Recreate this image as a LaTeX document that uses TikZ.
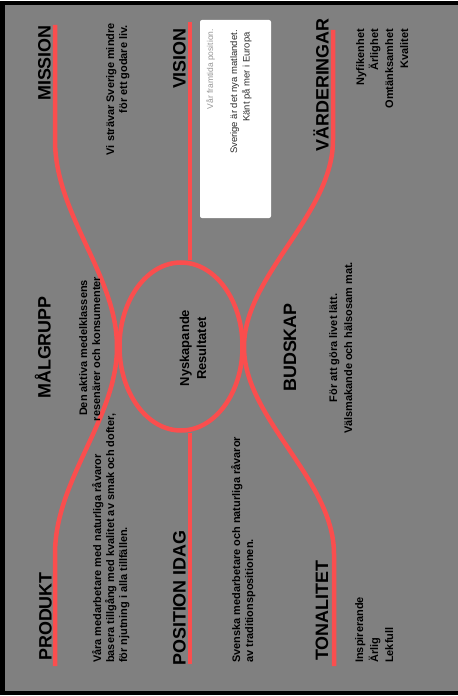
\documentclass[tikz,border=0pt]{standalone}
\usepackage{fontspec}
\setmainfont{Liberation Sans}
\usetikzlibrary{shapes.geometric}
\definecolor{bggrey}{RGB}{128,128,128}
\definecolor{redline}{RGB}{250,78,78}
\definecolor{softgrey}{RGB}{150,150,150}
\definecolor{darktext}{RGB}{45,45,45}
\begin{document}
\begin{tikzpicture}[x=1bp,y=-1bp,
  redpath/.style={draw=redline,line width=4.5bp},
  heading/.style={font=\fontsize{18}{20}\selectfont\bfseries,rotate=90,inner sep=0pt,text=black},
  bodytext/.style={font=\fontsize{11}{13}\selectfont\bfseries,rotate=90,inner sep=0pt,text=black},
  coretext/.style={font=\fontsize{13}{15}\selectfont\bfseries,rotate=90,inner sep=0pt,text=black},
  boxsmall/.style={font=\fontsize{8.5}{10}\selectfont,rotate=90,inner sep=0pt,text=softgrey},
  boxtext/.style={font=\fontsize{9.5}{11}\selectfont,rotate=90,inner sep=0pt,text=darktext}]
\useasboundingbox (0,0) rectangle (458,696);
\clip (0,0) rectangle (458,696);
\fill[white] (0,0) rectangle (458,696);
\draw[line width=4bp, fill=bggrey] (2.5,3.5) rectangle (480,692.5);

% red structure
\coordinate (lefttop) at (55,25);
\coordinate (leftbot) at (55,666);
\coordinate (midtop) at (190,22);
\coordinate (midbot) at (190,664);
\coordinate (righttop) at (333,30);
\coordinate (rightbot) at (334,666);
\node[ellipse, draw=redline, line width=4.5bp, minimum width=123bp, minimum height=168bp, inner sep=0pt] (core) at (181,346.5) {};
\draw[redpath] (lefttop) -- (55,140) .. controls (55,215) and (117,275) .. (117,347)
  .. controls (117,419) and (55,479) .. (55,554) -- (leftbot);
\draw[redpath] (righttop) -- (333,140) .. controls (333,215) and (244,275) .. (244,347)
  .. controls (244,419) and (334,479) .. (334,554) -- (rightbot);
\draw[redpath] (midtop) -- (midtop |- core.north);
\draw[redpath] (midbot) -- (midbot |- core.south);

% vision box
\node[fill=white, rounded corners=2bp, minimum width=71bp, minimum height=198bp, inner sep=0pt] (visionbox) at (235.5,119) {};
\node[boxsmall, anchor=base east] (boxl1) at (213,29) {Vår framtida position.};
\node[boxtext, anchor=base east] (boxl2) at (237,30) {Sverige är det nya matlandet.};
\node[boxtext, anchor=base east] (boxl3) at (249.5,32) {Känt på mer i Europa};

% headings
\node[heading, anchor=base east] (mission) at (50.5,25) {MISSION};
\node[heading, anchor=base east] (vision) at (185.5,28) {VISION};
\node[heading, anchor=base east] (varden) at (328.5,18) {VÄRDERINGAR};
\node[heading, anchor=base] (malgrupp) at (50.5,347.5) {MÅLGRUPP};
\node[heading, anchor=base] (budskap) at (296,347.5) {BUDSKAP};
\node[heading, anchor=base west] (produkt) at (51.5,661) {PRODUKT};
\node[heading, anchor=base west] (position) at (185.5,666) {POSITION IDAG};
\node[heading, anchor=base west] (tonalitet) at (328,661) {TONALITET};

% mission text
\node[bodytext, anchor=base east] (mis1) at (114,23) {Vi strävar Sverige mindre};
\node[bodytext, anchor=base east] (mis2) at (127,25) {för ett godare liv.};

% målgrupp text
\node[bodytext, anchor=base] (mal1) at (87,348) {Den aktiva medelklassens};
\node[bodytext, anchor=base] (mal2) at (100,349) {resenärer och konsumenter};

% core text
\node[coretext, anchor=base] (core1) at (189,348) {Nyskapande};
\node[coretext, anchor=base] (core2) at (206,348.5) {Resultatet};

% produkt text
\node[bodytext, anchor=base west] (pro1) at (101,663) {Våra medarbetare med naturliga råvaror};
\node[bodytext, anchor=base west] (pro2) at (114,663) {basera tillgång med kvalitet av smak och dofter,};
\node[bodytext, anchor=base west] (pro3) at (127,663) {för njutning i alla tillfällen.};

% position idag text
\node[bodytext, anchor=base west] (pos1) at (240,663) {Svenska medarbetare och naturliga råvaror};
\node[bodytext, anchor=base west] (pos2) at (253,663) {av traditionspositionen.};

% budskap text
\node[bodytext, anchor=base] (bud1) at (337,348) {För att göra livet lätt.};
\node[bodytext, anchor=base] (bud2) at (352,348) {Välsmakande och hälsosam mat.};

% värderingar text
\node[bodytext, anchor=base east] (var1) at (364,29) {Nyfikenhet};
\node[bodytext, anchor=base east] (var2) at (378,29) {Ärlighet};
\node[bodytext, anchor=base east] (var3) at (393,29) {Omtänksamhet};
\node[bodytext, anchor=base east] (var4) at (408,29) {Kvalitet};

% tonalitet text
\node[bodytext, anchor=base west] (ton1) at (363,663) {Inspirerande};
\node[bodytext, anchor=base west] (ton2) at (378,663) {Ärlig};
\node[bodytext, anchor=base west] (ton3) at (393,663) {Lekfull};
\end{tikzpicture}
\end{document}
